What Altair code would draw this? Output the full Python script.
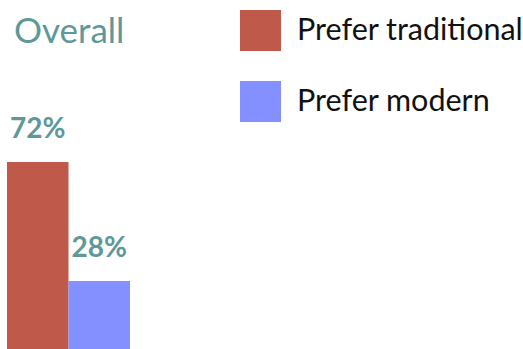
import altair as alt
import pandas as pd

categories = ["Prefer traditional", "Prefer modern"]
values = [72, 28]
labels = ["72%", "28%"]
colors = ["#BF594A", "#8490FF"]

df = pd.DataFrame({"cat": categories, "val": values, "lab": labels})

x = alt.X("cat:N", sort=categories, axis=None,
          scale=alt.Scale(range=[7, 130], paddingInner=0, paddingOuter=0))
y_scale = alt.Scale(domain=[2.85, 113.4], nice=False, zero=False)

bars = alt.Chart(df).mark_bar(clip=True).encode(
    x=x,
    y=alt.Y("val:Q", scale=y_scale, axis=None),
    y2=alt.datum(0),
    color=alt.Color("cat:N", sort=categories,
                    scale=alt.Scale(domain=categories, range=colors),
                    legend=alt.Legend(title=None, orient="none", legendX=240, legendY=-40,
                                      symbolType="square", symbolSize=1681,
                                      symbolStrokeWidth=0, symbolOpacity=1,
                                      labelFontSize=30.5, labelFont="Lato",
                                      labelColor="#111111", labelOffset=16,
                                      rowPadding=30, padding=0, labelLimit=400)),
)

text = alt.Chart(df).mark_text(font="Lato", fontSize=28, fontWeight="bold",
                               color="#5E9898", dy=-24, baseline="alphabetic",
                               align="center").encode(
    x=x,
    y=alt.Y("val:Q", scale=y_scale, axis=None),
    text="lab:N",
)

chart = alt.layer(bars, text).properties(
    width=523, height=299,
    padding={"top": 50, "left": 0, "right": 0, "bottom": 0},
    autosize=alt.AutoSizeParams(type="none"),
    title=alt.TitleParams("Overall", anchor="start", frame="group", orient="top",
                          font="Lato", fontSize=35, fontWeight="normal",
                          color="#5E9898", baseline="alphabetic", offset=5, dx=14, dy=73),
).configure_view(stroke=None)

chart.save("out.html", embed_options={"renderer": "svg", "actions": False})
